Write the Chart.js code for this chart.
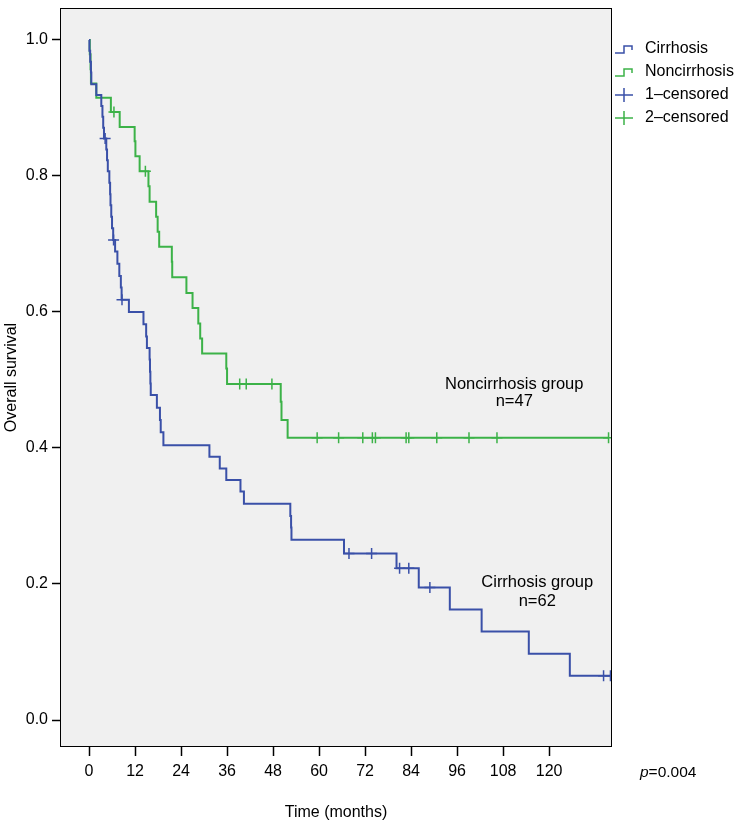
<!DOCTYPE html>
<html>
<head>
<meta charset="utf-8">
<script src="https://cdn.jsdelivr.net/npm/chart.js@4/dist/chart.umd.min.js"></script>
<style>
	html, body { margin: 0; padding: 0; background: #fff; }
	#wrap { width: 736px; height: 830px; }
</style>
</head>
<body>
<div id="wrap"><canvas id="graph" width="736" height="830"></canvas></div>
<script>
// Kaplan-Meier steps (time in months, survival after the drop)
const cirrhosisTime = [0, 0.1, 0.3, 0.5, 0.6, 1.9, 3.2, 3.5, 3.7, 3.9, 4.5, 4.7, 4.9, 5.3, 5.5, 5.6, 5.8, 6.0, 6.3,
	6.8, 7.4, 7.9, 8.3, 8.5, 10.4, 14.2, 14.9, 15.1, 15.8, 15.9, 16.0, 16.1, 17.7, 18.5, 18.7, 19.4,
	31.4, 34.1, 35.8, 39.5, 40.4, 52.5, 52.7, 52.8, 66.5, 80.2, 86.0, 94.1, 102.4, 114.7, 125.4, 136.0];
const cirrhosisSurv = [1.0, 0.984, 0.968, 0.952, 0.935, 0.919, 0.903, 0.887, 0.871, 0.855, 0.839, 0.823, 0.807, 0.790, 0.773, 0.757, 0.740, 0.723, 0.706,
	0.689, 0.671, 0.653, 0.636, 0.618, 0.600, 0.582, 0.564, 0.547, 0.530, 0.512, 0.495, 0.478, 0.459, 0.441, 0.423, 0.404,
	0.387, 0.370, 0.353, 0.336, 0.318, 0.300, 0.283, 0.265, 0.245, 0.223, 0.195, 0.1625, 0.130, 0.0975, 0.065, 0.065];
const cirrhosisCensTime = [4.2, 6.4, 8.6, 67.8, 73.7, 81.0, 83.4, 88.9, 134.2, 136.0];
const cirrhosisCensSurv = [0.855, 0.706, 0.618, 0.245, 0.245, 0.223, 0.223, 0.195, 0.065, 0.065];

const noncirrhosisTime = [0, 0.2, 0.4, 0.5, 1.9, 5.7, 8.0, 11.9, 12.1, 13.2, 15.5, 15.8, 17.5, 17.9, 18.3, 21.6, 21.7,
	25.4, 27.0, 28.5, 29.0, 29.5, 35.8, 36.0, 50.0, 50.2, 51.8, 135.5];
const noncirrhosisSurv = [1.0, 0.979, 0.957, 0.936, 0.915, 0.894, 0.872, 0.851, 0.829, 0.807, 0.785, 0.762, 0.740, 0.718, 0.696, 0.674, 0.651,
	0.628, 0.606, 0.583, 0.561, 0.539, 0.517, 0.494, 0.468, 0.441, 0.415, 0.415];
const noncirrhosisCensTime = [6.5, 14.7, 39.3, 41.0, 47.7, 59.5, 65.1, 71.4, 73.9, 74.7, 82.7, 83.4, 90.7, 99.1, 106.4, 135.5];
const noncirrhosisCensSurv = [0.894, 0.807, 0.494, 0.494, 0.494, 0.415, 0.415, 0.415, 0.415, 0.415, 0.415, 0.415, 0.415, 0.415, 0.415, 0.415];

const xTicks = [0, 12, 24, 36, 48, 60, 72, 84, 96, 108, 120];
const yTicks = [0, 0.2, 0.4, 0.6, 0.8, 1.0];

const legendLabels = ["Cirrhosis", "Noncirrhosis", "1\u2013censored", "2\u2013censored"];
const groupNotes = [
	{ text: "Noncirrhosis group", x: 110.9, y: 0.494 },
	{ text: "n=47", x: 110.9, y: 0.469 },
	{ text: "Cirrhosis group", x: 116.9, y: 0.203 },
	{ text: "n=62", x: 116.9, y: 0.175 },
];

const blue = "rgb(58, 80, 168)";
const green = "rgb(60, 178, 72)";
const font = "'Liberation Sans', Arial, sans-serif";

const toPoints = (xs, ys) => xs.map((x, i) => ({ x: x, y: ys[i] }));

// grey plot area with a black frame
const frame = {
	id: "frame",
	beforeDraw(chart) {
		const a = chart.chartArea;
		const ctx = chart.ctx;
		ctx.save();
		ctx.fillStyle = "#f0f0f0";
		ctx.fillRect(a.left, a.top, a.right - a.left, a.bottom - a.top);
		ctx.restore();
	},
	afterDraw(chart) {
		const a = chart.chartArea;
		const ctx = chart.ctx;
		ctx.save();
		ctx.strokeStyle = "#000";
		ctx.lineWidth = 1;
		ctx.strokeRect(a.left + 0.5, a.top + 0.5, a.right - a.left - 1, a.bottom - a.top - 1);
		ctx.restore();
	},
};

// legend to the right of the frame, group notes and p value
const notes = {
	id: "notes",
	afterDraw(chart) {
		const a = chart.chartArea;
		const ctx = chart.ctx;
		const xs = chart.scales.x;
		const ys = chart.scales.y;
		ctx.save();
		ctx.fillStyle = "#000";
		ctx.font = "16.5px " + font;
		ctx.textAlign = "center";
		ctx.textBaseline = "middle";
		groupNotes.forEach((g) => {
			ctx.fillText(g.text, xs.getPixelForValue(g.x), ys.getPixelForValue(g.y));
		});

		// legend
		const colors = [blue, green, blue, green];
		const lx = a.right + 3;
		legendLabels.forEach((label, i) => {
			const y = 49 + i * 23;
			ctx.strokeStyle = colors[i];
			ctx.lineWidth = 1.5;
			ctx.beginPath();
			if (i < 2) {
				ctx.moveTo(lx, y + 4);
				ctx.lineTo(lx + 9, y + 4);
				ctx.lineTo(lx + 9, y - 3);
				ctx.lineTo(lx + 17, y - 3);
				ctx.lineTo(lx + 17, y + 1);
			} else {
				ctx.moveTo(lx, y);
				ctx.lineTo(lx + 18, y);
				ctx.moveTo(lx + 9, y - 7);
				ctx.lineTo(lx + 9, y + 7);
			}
			ctx.stroke();
			ctx.fillStyle = "#000";
			ctx.font = "16px " + font;
			ctx.textAlign = "left";
			ctx.fillText(label, lx + 30, y);
		});

		// p value
		const py = a.bottom + 26;
		ctx.textAlign = "left";
		ctx.font = "italic 15.5px " + font;
		ctx.fillText("p", a.right + 28, py);
		const w = ctx.measureText("p").width;
		ctx.font = "15.5px " + font;
		ctx.fillText("=0.004", a.right + 28 + w, py);
		ctx.restore();
	},
};

const stepLine = (label, xs, ys, color) => ({
	label: label,
	data: toPoints(xs, ys),
	showLine: true,
	stepped: "before",
	borderColor: color,
	borderWidth: 2,
	pointRadius: 0,
	fill: false,
});

const censorMarks = (label, xs, ys, color) => ({
	label: label,
	data: toPoints(xs, ys),
	showLine: false,
	pointStyle: "cross",
	pointRadius: 5.5,
	borderColor: color,
	borderWidth: 1.5,
});

new Chart(document.getElementById("graph"), {
	type: "scatter",
	data: {
		datasets: [
			stepLine("Cirrhosis", cirrhosisTime, cirrhosisSurv, blue),
			stepLine("Noncirrhosis", noncirrhosisTime, noncirrhosisSurv, green),
			censorMarks("1-censored", cirrhosisCensTime, cirrhosisCensSurv, blue),
			censorMarks("2-censored", noncirrhosisCensTime, noncirrhosisCensSurv, green),
		],
	},
	options: {
		responsive: false,
		animation: false,
		layout: { padding: { top: 8, right: 124, left: 0, bottom: 0 } },
		plugins: {
			legend: { display: false },
			tooltip: { enabled: false },
		},
		scales: {
			x: {
				type: "linear",
				min: -7.57,
				max: 136.4,
				afterBuildTicks: (scale) => {
					scale.ticks = xTicks.map((v) => ({ value: v }));
				},
				afterFit: (scale) => {
					scale.height = 83;
					scale.paddingLeft = 0;
					scale.paddingRight = 0;
				},
				grid: { drawOnChartArea: false, tickLength: 9, tickColor: "#000", tickWidth: 1.5 },
				border: { display: false },
				ticks: { color: "#000", font: { family: font, size: 16 }, padding: 6, maxRotation: 0 },
				title: {
					display: true,
					text: "Time (months)",
					color: "#000",
					font: { family: "'Liberation Sans Narrow', " + font, size: 16 },
					padding: { top: 0, bottom: 8 },
				},
			},
			y: {
				type: "linear",
				min: -0.0397,
				max: 1.047,
				afterBuildTicks: (scale) => {
					scale.ticks = yTicks.map((v) => ({ value: v }));
				},
				afterFit: (scale) => {
					scale.width = 60;
					scale.paddingTop = 0;
					scale.paddingBottom = 0;
				},
				grid: { drawOnChartArea: false, tickLength: 8, tickColor: "#000", tickWidth: 1.5 },
				border: { display: false },
				ticks: {
					color: "#000",
					font: { family: font, size: 16 },
					padding: 4,
					callback: (v) => v.toFixed(1),
				},
				title: {
					display: true,
					text: "Overall survival",
					color: "#000",
					font: { family: "'Liberation Sans Narrow', " + font, size: 16 },
					padding: { top: 2, bottom: 0 },
				},
			},
		},
	},
	plugins: [frame, notes],
});
</script>
</body>
</html>
